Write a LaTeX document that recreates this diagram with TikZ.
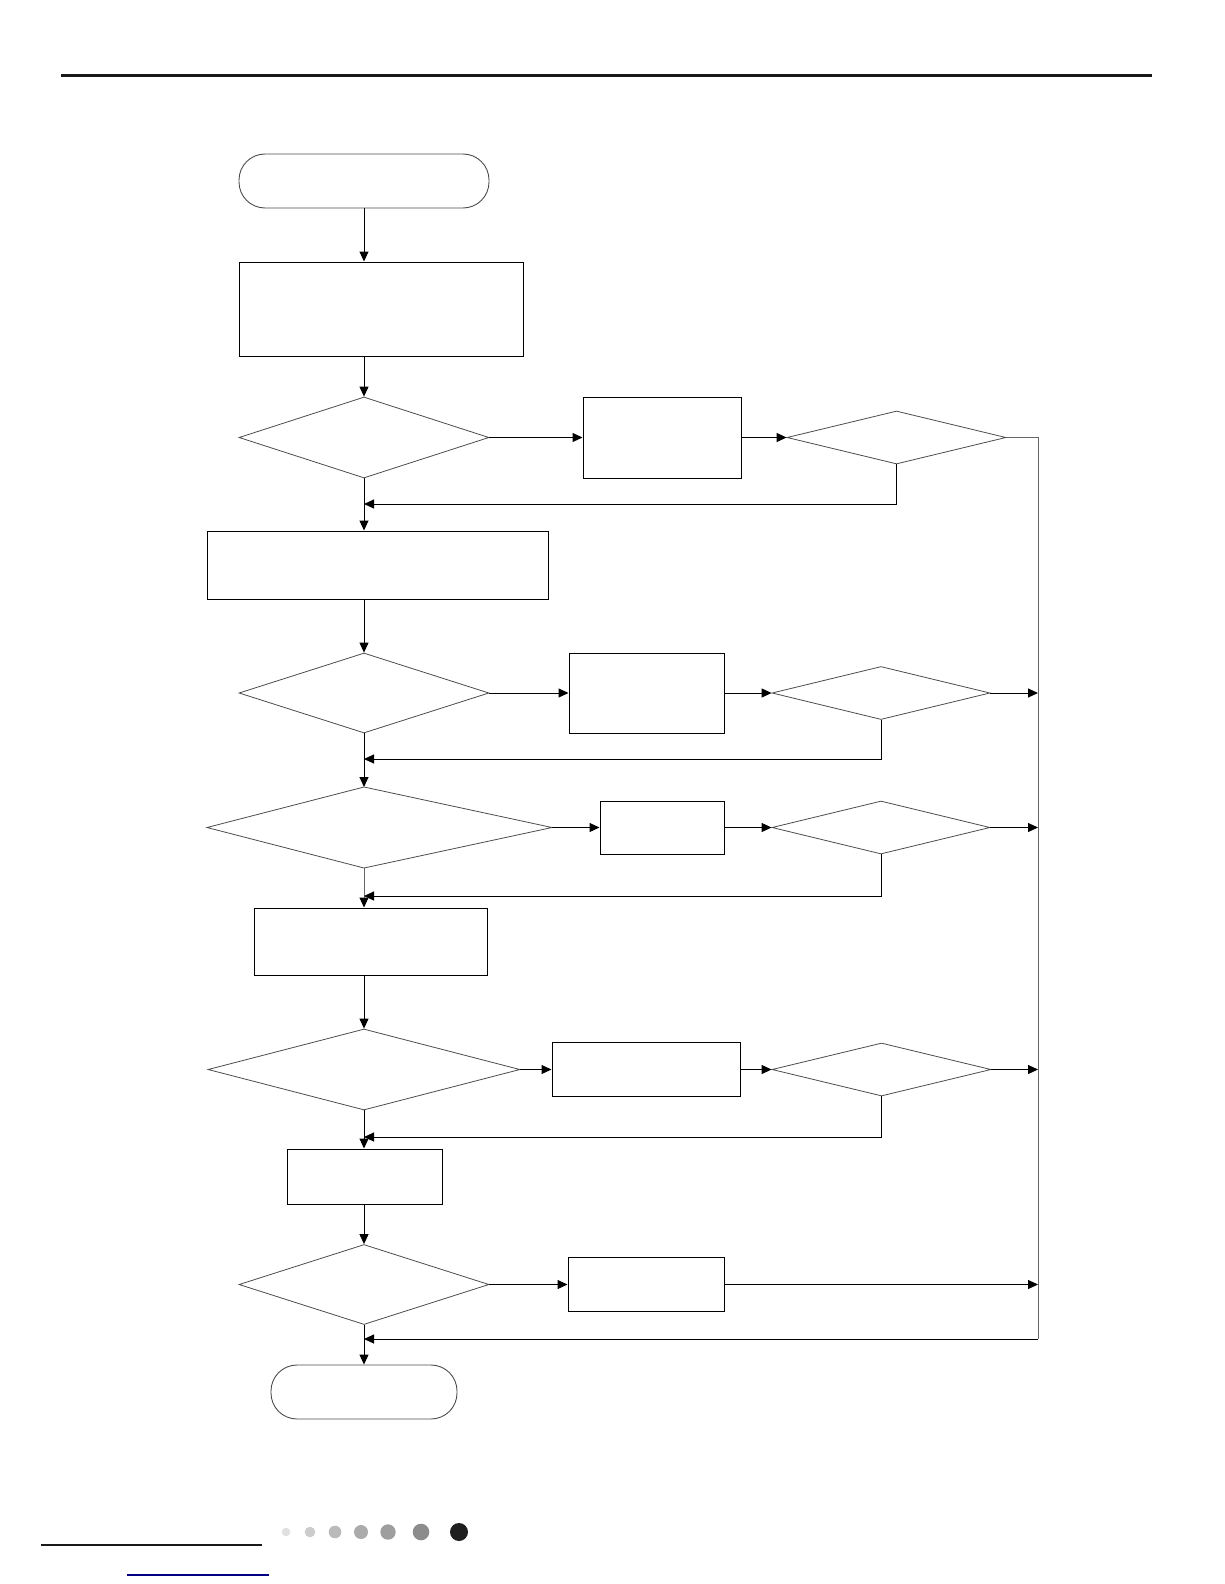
\documentclass[tikz,border=0pt]{standalone}
\usetikzlibrary{shapes.geometric,arrows.meta}
\begin{document}
\begin{tikzpicture}[x=1pt,y=-1pt,
  box/.style={draw=black,line width=1pt,rectangle,inner sep=0pt},
  term/.style={draw=black!70,line width=0.9pt,rectangle,rounded corners=26pt,inner sep=0pt},
  dia/.style={draw=black!70,line width=0.8pt,diamond,inner sep=0pt},
  arr/.style={line width=1pt,-{Triangle[length=10pt,width=9pt]}},
  garr/.style={line width=1pt,draw=black!60,-{Triangle[length=10pt,width=9pt,color=black]}},
  ln/.style={line width=1pt,draw=black!60}]
\useasboundingbox (0,0) rectangle (1224,1584);
% header / footer decorations
\draw[line width=3pt,black!90] (61,76) -- (1152,76);
\draw[line width=2pt,black!90] (41,1545) -- (262,1545);
\draw[line width=1.2pt,blue!50!black] (127,1575) -- (269,1575);
\fill[black!12] (286,1532) circle (4.3);
\fill[black!20] (310,1532) circle (5.3);
\fill[black!27] (335,1532) circle (6.3);
\fill[black!33] (361,1532) circle (7);
\fill[black!38] (388,1532) circle (7.7);
\fill[black!45] (421,1532) circle (8.3);
\fill[black!88] (459,1532) circle (9);
% nodes
\node[term,minimum width=250,minimum height=54] (start) at (364,181) {};
\node[box,minimum width=284,minimum height=94] (b1) at (381,309) {};
\node[dia,minimum width=250,minimum height=81] (d1) at (364,437.5) {};
\node[box,minimum width=158,minimum height=81] (r1) at (662,437.5) {};
\node[dia,minimum width=219,minimum height=53] (s1) at (896.5,437.5) {};
\node[box,minimum width=341,minimum height=68] (b2) at (377.5,565) {};
\node[dia,minimum width=250,minimum height=80] (d2) at (364,693) {};
\node[box,minimum width=155,minimum height=80] (r2) at (646.5,693) {};
\node[dia,minimum width=218,minimum height=53] (s2) at (881,693) {};
% asymmetric decision 3
\coordinate (d3t) at (364,787);
\coordinate (d3b) at (364,868);
\coordinate (d3l) at (207,827.5);
\coordinate (d3r) at (552,827.5);
\draw[black!70,line width=0.8pt] (d3t) -- (d3r) -- (d3b) -- (d3l) -- cycle;
\node[box,minimum width=124,minimum height=53] (r3) at (662,827.5) {};
\node[dia,minimum width=218,minimum height=53] (s3) at (881,827.5) {};
\node[box,minimum width=233,minimum height=67] (b3) at (370.5,941.5) {};
\node[dia,minimum width=312,minimum height=81] (d4) at (364,1069.5) {};
\node[box,minimum width=188,minimum height=54] (r4) at (646,1069.5) {};
\node[dia,minimum width=219,minimum height=53] (s4) at (881.5,1069.5) {};
\node[box,minimum width=155,minimum height=55] (b4) at (364.5,1176.5) {};
\node[dia,minimum width=250,minimum height=80] (d5) at (364,1284.5) {};
\node[box,minimum width=156,minimum height=54] (r5) at (646,1284.5) {};
\node[term,minimum width=186,minimum height=54] (end) at (364,1392) {};
% helper coordinates
\coordinate (Rtop) at (1038,437.5);
\coordinate (Rbot) at (1038,1339);
\coordinate (m1) at (364,504);
\coordinate (m2) at (364,759);
\coordinate (m3) at (364,896);
\coordinate (m4) at (364,1137);
\coordinate (m5) at (364,1339);
% main column
\draw[arr] (start.south) -- (start.south |- b1.north);
\draw[arr] (d1.north |- b1.south) -- (d1.north);
\draw[arr] (d1.south) -- (d1.south |- b2.north);
\draw[arr] (d2.north |- b2.south) -- (d2.north);
\draw[arr] (d2.south) -- (d3t);
\draw[garr] (d3b) -- (d3b |- b3.north);
\draw[arr] (d4.north |- b3.south) -- (d4.north);
\draw[arr] (d4.south) -- (d4.south |- b4.north);
\draw[arr] (b4.south -| d5.north) -- (d5.north);
\draw[arr] (d5.south) -- (end.north);
% branches
\draw[arr] (d1.east) -- (r1.west);
\draw[arr] (r1.east) -- (s1.west);
\draw[ln] (s1.east) -- (Rtop) -- (Rbot);
\draw[arr] (Rbot) -- (m5);
\draw[arr] (s1.south) |- (m1);
\draw[arr] (d2.east) -- (r2.west);
\draw[arr] (r2.east) -- (s2.west);
\draw[arr] (s2.east) -- (s2.east -| Rtop);
\draw[arr] (s2.south) |- (m2);
\draw[arr] (d3r) -- (r3.west);
\draw[arr] (r3.east) -- (s3.west);
\draw[arr] (s3.east) -- (s3.east -| Rtop);
\draw[arr] (s3.south) |- (m3);
\draw[arr] (d4.east) -- (r4.west);
\draw[arr] (r4.east) -- (s4.west);
\draw[arr] (s4.east) -- (s4.east -| Rtop);
\draw[arr] (s4.south) |- (m4);
\draw[arr] (d5.east) -- (r5.west);
\draw[arr] (r5.east) -- (r5.east -| Rtop);
\end{tikzpicture}
\end{document}
